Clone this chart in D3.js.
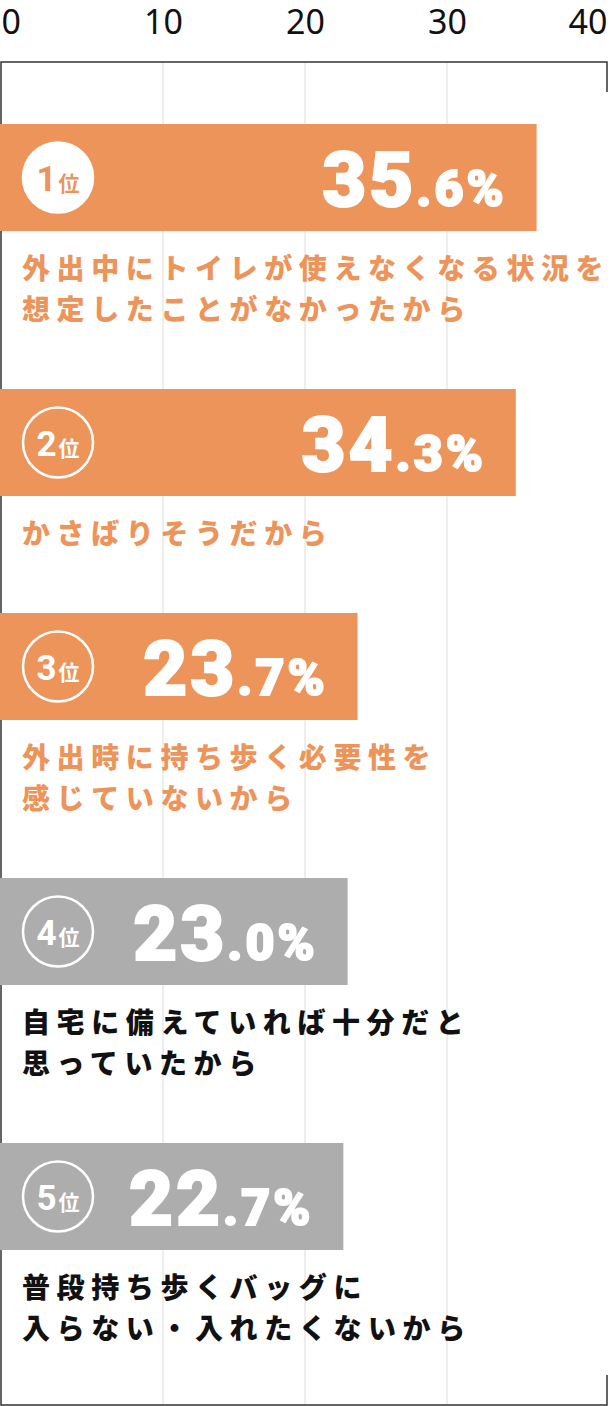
<html>
<head>
<meta charset="utf-8">
<title>Ranking</title>
<style>
  body {margin: 0; background: #fff;}
  svg {display: block;}
  .tick-label {font-family: "Noto Sans", sans-serif; font-size: 34px; fill: #111;}
  .label {font-family: "Noto Sans CJK JP", sans-serif; font-weight: 900; font-size: 28px; letter-spacing: 6.6px;}
  .value {font-family: Roboto, sans-serif; font-weight: 900; fill: #fff; stroke: #fff; stroke-width: 2px; letter-spacing: 3px;}
</style>
</head>
<body>
<svg></svg>
<script src="https://d3js.org/d3.v7.min.js"></script>
<script>
const ranks = [1, 2, 3, 4, 5];
const values = [35.6, 34.3, 23.7, 23.0, 22.7];
const labels = [
  ["外出中にトイレが使えなくなる状況を", "想定したことがなかったから"],
  ["かさばりそうだから"],
  ["外出時に持ち歩く必要性を", "感じていないから"],
  ["自宅に備えていれば十分だと", "思っていたから"],
  ["普段持ち歩くバッグに", "入らない・入れたくないから"]
];
const highlighted = [true, true, true, false, false];
const ticks = [0, 10, 20, 30, 40];

const width = 610, height = 1406;
const orange = "#ec945a", gray = "#adadad";
const frameTop = 62, frameBottom = 1405;
const barH = 107, lineH = 41;

const svg = d3.select("svg").attr("width", width).attr("height", height);

// the picture's scale is not quite linear, so it is piecewise between ticks
const x = d3.scaleLinear()
  .domain(ticks)
  .range([1, 163, 305, 447, 607]);

// bar tops: each item is bar + gap + lines of label
const tops = [];
let y0 = 124;
labels.forEach(l => { tops.push(y0); y0 += barH + 76 + lineH * l.length; });

// grid
svg.append("g").selectAll("line")
  .data(ticks.slice(1, -1))
  .join("line")
  .attr("x1", d => x(d)).attr("x2", d => x(d))
  .attr("y1", frameTop).attr("y2", frameBottom)
  .attr("stroke", "#dcdcdc").attr("stroke-width", 1);

// frame
const frame = svg.append("g").attr("stroke", "#333").attr("stroke-width", 1.5).attr("fill", "none");
frame.append("path")
  .attr("d", `M${x(40)},${frameTop + 30}V${frameTop}H${x(0)}V${frameBottom}H${x(40)}V${frameBottom - 30}`);

// axis labels on top
const axis = svg.append("g")
  .attr("transform", "translate(0,34)")
  .call(d3.axisTop(x).tickValues(ticks).tickSize(0).tickPadding(0));
axis.select(".domain").remove();
axis.selectAll("text")
  .attr("class", "tick-label")
  .attr("y", 0).attr("dy", 0)
  .attr("fill", null)
  .attr("text-anchor", d => d === 0 ? "start" : d === 40 ? "end" : "middle");
axis.attr("font-family", null).attr("font-size", null);

const items = svg.append("g").selectAll("g")
  .data(ranks.map((r, i) => ({rank: r, value: values[i], lines: labels[i], hi: highlighted[i], top: tops[i]})))
  .join("g")
  .attr("transform", d => `translate(0,${d.top})`);

items.append("rect")
  .attr("x", 0).attr("y", 0)
  .attr("width", d => x(d.value))
  .attr("height", barH)
  .attr("fill", d => d.hi ? orange : gray);

// badge
items.append("circle")
  .attr("cx", 58).attr("cy", barH / 2).attr("r", 35)
  .attr("fill", d => d.rank === 1 ? "#fff" : "none")
  .attr("stroke", "#fff").attr("stroke-width", 2.5);

const badge = items.append("text")
  .attr("x", 58).attr("y", barH / 2 + 13)
  .attr("text-anchor", "middle")
  .attr("fill", d => d.rank === 1 ? orange : "#fff");
badge.append("tspan")
  .attr("font-family", "Roboto, sans-serif").attr("font-weight", 700).attr("font-size", 35)
  .text(d => d.rank);
badge.append("tspan")
  .attr("font-family", "'Noto Sans CJK JP', sans-serif").attr("font-weight", 700).attr("font-size", 21)
  .attr("dx", 2)
  .text("位");

// value
const val = items.append("text")
  .attr("class", "value")
  .attr("x", d => x(d.value) - 30)
  .attr("y", barH / 2 + 28)
  .attr("text-anchor", "end");
val.append("tspan").attr("font-size", 76).text(d => d.value.toFixed(1).split(".")[0]);
val.append("tspan").attr("font-size", 50).text(d => "." + d.value.toFixed(1).split(".")[1] + "%");

// label lines
items.append("text")
  .attr("class", "label")
  .attr("fill", d => d.hi ? orange : "#111")
  .selectAll("tspan")
  .data(d => d.lines)
  .join("tspan")
  .attr("x", 22)
  .attr("y", (d, i) => barH + 48 + i * lineH)
  .text(d => d);
</script>
</body>
</html>
